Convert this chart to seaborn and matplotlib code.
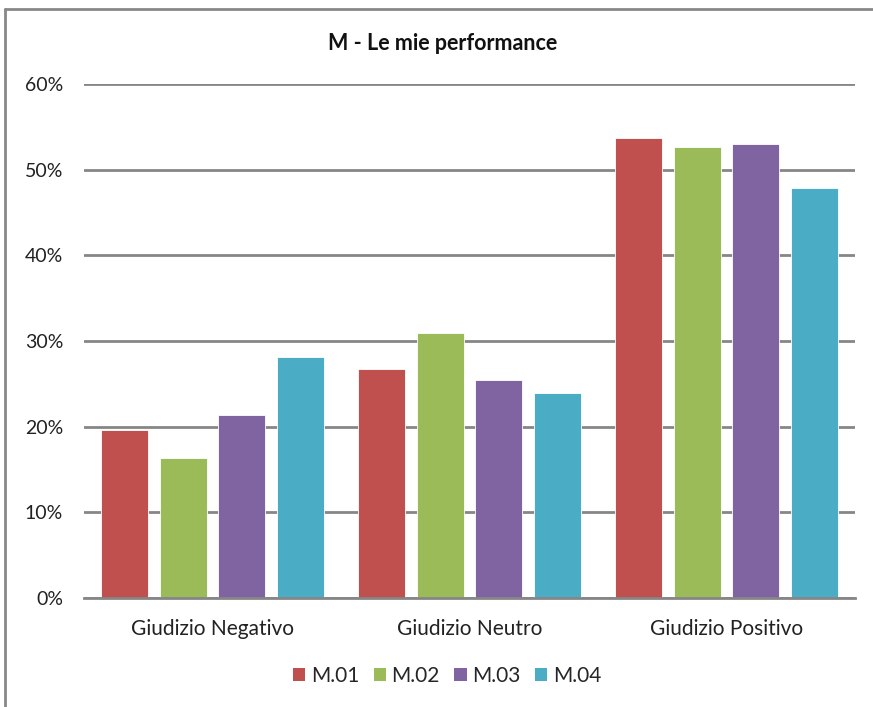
import matplotlib
matplotlib.use("Agg")
import matplotlib.pyplot as plt
from matplotlib.lines import Line2D
from matplotlib.patches import Patch
import seaborn as sns
import pandas as pd

categories = ["Giudizio Negativo", "Giudizio Neutro", "Giudizio Positivo"]
series = ["M.01", "M.02", "M.03", "M.04"]
m01 = [19.6, 26.7, 53.7]
m02 = [16.4, 30.9, 52.6]
m03 = [21.4, 25.5, 53.0]
m04 = [28.1, 23.9, 47.9]
colors = ["#C0504D", "#9BBB59", "#8064A2", "#4BACC6"]
yticks = [0, 10, 20, 30, 40, 50, 60]
ytick_labels = ["0%", "10%", "20%", "30%", "40%", "50%", "60%"]
title = "M - Le mie performance"

rows = []
for s, vals in zip(series, [m01, m02, m03, m04]):
    for c, v in zip(categories, vals):
        rows.append({"cat": c, "serie": s, "val": v})
df = pd.DataFrame(rows)

sns.set_theme(style="white")
plt.rcParams["font.family"] = ["Lato", "DejaVu Sans"]

W, H = 873, 707
fig = plt.figure(figsize=(W / 100, H / 100), dpi=100)
ax = fig.add_axes([84 / W, 1 - 598 / H, (855 - 84) / W, (598 - 84) / H])

sns.barplot(data=df, x="cat", y="val", hue="serie", palette=colors,
            order=categories, hue_order=series, width=0.91, gap=0.2,
            saturation=1, ax=ax, legend=False, edgecolor="white", linewidth=0.6)

ax.set_xlim(-0.5, 2.5)
ax.set_ylim(0, 60)
ax.set_yticks(yticks)
ax.set_yticklabels(ytick_labels, fontsize=14, color="#222222")
ax.tick_params(axis="x", labelsize=15, colors="#222222", pad=15, length=0)
ax.tick_params(axis="y", length=0, pad=15)
ax.set_xlabel("")
ax.set_ylabel("")
ax.yaxis.grid(True, color="#868686", linewidth=2)
ax.set_axisbelow(True)
for sp in ["top", "right", "left"]:
    ax.spines[sp].set_visible(False)
ax.spines["bottom"].set_color("#868686")
ax.spines["bottom"].set_linewidth(2)

fig.text(443 / W, 1 - 44 / H, title, ha="center", va="center",
         fontsize=15.5, fontweight="bold", color="#111111")

handles = [Patch(facecolor=c, edgecolor="none") for c in colors]
fig.legend(handles, series, loc="center", bbox_to_anchor=(447 / W, 1 - 676 / H),
           ncol=4, frameon=False, fontsize=15, handlelength=0.6, handleheight=0.6,
           handletextpad=0.25, columnspacing=0.7)

# chart frame (top and left edges visible)
fig.add_artist(Line2D([5 / W, 1], [1 - 9 / H, 1 - 9 / H], color="#888888", linewidth=2))
fig.add_artist(Line2D([5 / W, 5 / W], [0, 1 - 9 / H], color="#888888", linewidth=2))

fig.savefig("out.png", dpi=100, facecolor="white")
